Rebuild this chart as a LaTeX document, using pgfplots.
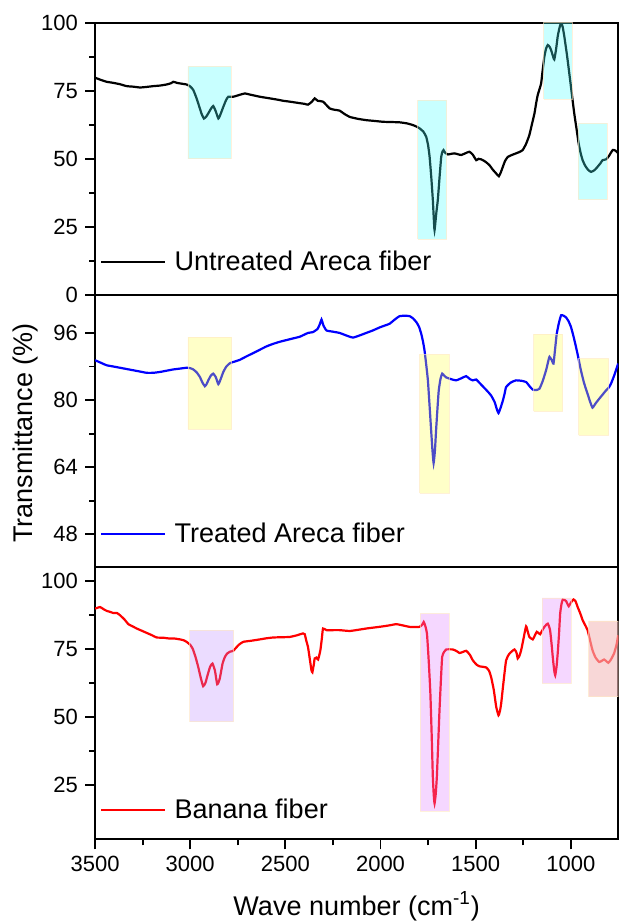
\documentclass[border=0pt]{standalone}
\usepackage{fontspec}
\setmainfont{Liberation Sans}
\usepackage{pgfplots}
\pgfplotsset{compat=1.18}

% highlight colours (drawn translucent over the spectra)
\definecolor{hlcyan}{RGB}{72,255,255}
\definecolor{hlyellow}{RGB}{255,255,72}
\definecolor{hllav}{RGB}{188,138,255}
\definecolor{hlorchid}{RGB}{222,122,255}
\definecolor{hlpink}{RGB}{243,188,188}
\definecolor{hledge}{RGB}{255,232,195}

\pgfplotsset{
  ftir/.style={
    width=261.5pt, height=136pt, scale only axis,
    xmin=750, xmax=3500, x dir=reverse,
    axis line style={line width=0.9pt},
    tick align=outside, tick pos=left,
    major tick length=5pt, minor tick length=3pt,
    every tick/.style={line width=0.9pt, black},
    minor y tick num=1,
    /pgf/number format/assume math mode=true,
    /pgf/number format/1000 sep={},
    ticklabel style={font=\fontsize{11}{13}\selectfont},
    label style={font=\fontsize{13.5}{16}\selectfont},
    legend style={draw=none, fill=none, anchor=west,
      font=\fontsize{13.5}{16}\selectfont,
      inner sep=0pt, nodes={inner xsep=0pt}},
    legend image code/.code={\draw[#1, line width=1pt] (0pt,0pt) -- (31.5pt,0pt); \path (36pt,0pt);},
    clip=true,
  },
  hlbox/.style={draw=hledge, line width=0.4pt, fill=#1, fill opacity=0.3, draw opacity=0.6, forget plot},
}

\begin{document}
\begin{tikzpicture}
\useasboundingbox (-47.5pt,-41.85pt) rectangle (262pt,419.35pt);

% ---------------- Untreated Areca fiber ----------------
\begin{axis}[ftir, at={(0pt,272pt)}, anchor=south west,
  ymin=0, ymax=100, ytick={0,25,50,75,100}, xtick=\empty,
  legend style={at={(axis description cs:0.0096,0.119)}}]
\addplot[black, line width=1.1pt, smooth, tension=0.3] coordinates {
(3500,79.8)(3470,79)(3439,78.3)(3404,77.9)(3369,77.4)(3334,76.7)(3300,76.5)(3264,76.2)
(3230,76.4)(3194,76.7)(3160,76.9)(3124,77.3)(3100,77.8)(3089,78.3)(3070,77.9)(3054,77.7)
(3019,77.3)(3000,76.6)(2984,75.3)(2968,72.5)(2952,69.1)(2940,66.5)(2928,64.8)(2916,65.5)
(2905,66.7)(2890,68.5)(2879,69.4)(2866,67.5)(2852,64.8)(2840,66.5)(2826,69.1)(2812,71.5)
(2800,72.8)(2774,72.8)(2740,73.5)(2713,74.0)(2680,73.5)(2634,72.8)(2590,72.3)(2547,71.8)
(2510,71.3)(2477,71)(2430,70.5)(2400,70.2)(2381,69.9)(2360,71)(2346,72.2)(2330,71.3)
(2302,71)(2267,68.5)(2240,68)(2215,67.7)(2190,66.5)(2162,65.4)(2120,64.7)(2075,64.2)
(2030,63.9)(1987,63.6)(1940,63.5)(1900,63.4)(1860,63.0)(1830,62.4)(1810,61.8)(1795,61.2)
(1775,60)(1760,58.1)(1750,55)(1742,50.7)(1733,43)(1725,34.8)(1720,28)(1716,23.8)
(1707,30)(1699,34.8)(1690,43)(1681,50.7)(1675,52.5)(1669,53.2)(1660,52.2)(1646,51.6)
(1630,51.8)(1611,52)(1595,51.7)(1576,51.4)(1555,52)(1533,52.6)(1515,51.5)(1497,49.5)
(1485,50)(1471,49.8)(1450,49)(1428,47.7)(1410,46)(1392,44.6)(1378,43.6)(1368,45)
(1357,47.1)(1345,49.3)(1331,50.7)(1310,51.4)(1288,52)(1270,52.5)(1253,53.2)(1235,55.5)
(1218,58.7)(1205,62.5)(1191,66.7)(1182,70.5)(1174,73.4)(1165,75.5)(1156,77.7)(1148,82.5)
(1139,87.5)(1130,90.5)(1121,91.8)(1112,91.2)(1104,90)(1095,88)(1087,86.5)(1078,90)
(1069,94.9)(1060,98)(1051,100)(1043,98.5)(1034,94.9)(1020,88)(1008,81.4)(995,74)
(982,66.7)(970,61)(959,55.7)(948,52)(938,49.5)(925,47.5)(910,46)(894,45.2)
(876,45.8)(859,47.1)(845,48.3)(833,49.5)(815,49.8)(800,51)(780,53.2)(765,53)(751,52)
};
\addlegendentry{Untreated Areca fiber}
\addplot[hlbox=hlcyan] coordinates {(3012,50)(2786,50)(2786,84)(3012,84)(3012,50)};
\addplot[hlbox=hlcyan] coordinates {(1804,20.5)(1652,20.5)(1652,71.6)(1804,71.6)(1804,20.5)};
\addplot[hlbox=hlcyan] coordinates {(1143,72)(994,72)(994,100)(1143,100)(1143,72)};
\addplot[hlbox=hlcyan] coordinates {(961,35)(810,35)(810,63)(961,63)(961,35)};
\end{axis}

% ---------------- Treated Areca fiber ----------------
\begin{axis}[ftir, at={(0pt,136pt)}, anchor=south west,
  ymin=40.2, ymax=105.07, ytick={48,64,80,96}, xtick=\empty,
  ylabel={Transmittance (\%)},
  ylabel style={at={(axis description cs:-0.1329,0.493)}, anchor=center},
  legend style={at={(axis description cs:0.0096,0.12)}}]
\addplot[blue, line width=1.1pt, smooth, tension=0.3] coordinates {
(3500,89.5)(3470,88.9)(3439,88.3)(3404,88)(3369,87.7)(3334,87.4)(3299,87.1)(3264,86.8)
(3229,86.5)(3194,86.5)(3159,86.7)(3124,87)(3089,87.3)(3054,87.5)(3019,87.7)(3000,87.6)
(2984,87.3)(2966,86.6)(2949,85.5)(2936,84.2)(2923,83.3)(2914,83.8)(2905,84.7)(2892,85.8)
(2879,86.3)(2866,85.5)(2852,83.8)(2840,85)(2826,86.7)(2810,88)(2791,88.8)(2765,89.2)
(2739,89.6)(2705,90.4)(2669,91.2)(2634,92)(2599,92.8)(2564,93.4)(2529,93.9)(2494,94.3)
(2459,94.7)(2424,95.1)(2381,96)(2355,96.2)(2330,97)(2318,98.2)(2310,99.2)(2300,97.8)
(2284,96.6)(2250,96.3)(2215,96)(2180,95.4)(2145,94.9)(2110,95.4)(2075,96)(2040,96.6)
(2005,97.3)(1975,97.8)(1952,98.2)(1925,99.2)(1900,100)(1870,100.1)(1847,100)(1830,99.5)
(1812,98.6)(1798,97.5)(1786,95.8)(1777,94)(1769,91.9)(1760,88.5)(1751,84.7)(1742,78.5)
(1734,72.8)(1727,68)(1721,65)(1714,68)(1708,72.8)(1700,78.5)(1694,82.3)(1685,85)
(1676,86.3)(1665,85.8)(1655,85.4)(1630,85)(1603,84.7)(1575,85.2)(1550,85.7)(1530,85)
(1515,84.7)(1497,84.9)(1480,84.1)(1463,83.3)(1440,82.2)(1419,81.1)(1400,79.5)(1390,78)
(1380,76.9)(1368,78.3)(1357,79.9)(1348,81.5)(1340,83.1)(1315,84.2)(1288,84.7)(1260,84.6)
(1235,84.3)(1215,83.2)(1200,82.5)(1182,82.4)(1165,82.7)(1148,84.5)(1130,87.1)(1120,89)
(1112,90.3)(1100,89.5)(1091,88.7)(1083,92)(1074,95.8)(1062,98.5)(1051,100.2)(1038,100.1)
(1025,99.7)(1012,98.8)(999,97.4)(986,95.2)(973,92.7)(960,90)(947,87.1)(930,84)
(912,81.5)(900,79.8)(886,78.2)(870,79.2)(851,80.3)(833,81.3)(815,82.3)(800,83)
(789,83.9)(775,85.5)(762,87.2)(751,88.7)
};
\addlegendentry{Treated Areca fiber}
\addplot[hlbox=hlyellow] coordinates {(3012,73)(2783,73)(2783,95)(3012,95)(3012,73)};
\addplot[hlbox=hlyellow] coordinates {(1795,57.8)(1638,57.8)(1638,90.9)(1795,90.9)(1795,57.8)};
\addplot[hlbox=hlyellow] coordinates {(1195,77.3)(1043,77.3)(1043,95.7)(1195,95.7)(1195,77.3)};
\addplot[hlbox=hlyellow] coordinates {(959,71.6)(802,71.6)(802,89.9)(959,89.9)(959,71.6)};
\end{axis}

% ---------------- Banana fiber ----------------
\begin{axis}[ftir, at={(0pt,0pt)}, anchor=south west,
  ymin=5, ymax=105.1, ytick={25,50,75,100},
  xtick={1000,1500,2000,2500,3000,3500}, minor x tick num=1,
  xlabel={Wave number (cm\textsuperscript{-1})},
  xlabel style={at={(axis description cs:0.5,0)}, anchor=center, yshift=-33.5pt},
  legend style={at={(axis description cs:0.0096,0.108)}}]
\addplot[red, line width=1.1pt, smooth, tension=0.3] coordinates {
(3500,89.8)(3474,90.4)(3455,89.6)(3439,89)(3420,88.6)(3404,88.2)(3385,88.2)(3369,87.4)
(3345,85.8)(3325,84.1)(3300,83.2)(3281,82.5)(3255,81.7)(3229,80.9)(3200,80)(3176,79.2)
(3140,79.1)(3107,78.8)(3080,78.8)(3054,78.5)(3035,78.2)(3019,77.6)(3000,76.5)(2987,75.1)
(2972,72)(2958,68.4)(2945,64.5)(2932,61.3)(2920,62.5)(2909,65.3)(2895,68.5)(2883,69.6)
(2870,67)(2858,62)(2845,64)(2830,69.6)(2818,72)(2806,73.3)(2790,74)(2774,74.3)
(2745,76.5)(2721,77.6)(2680,78)(2634,78.5)(2600,78.9)(2564,79.2)(2520,79.3)(2477,79.4)
(2440,80)(2407,80.7)(2398,80.4)(2390,78)(2381,75.7)(2370,70.5)(2363,67.2)(2358,66.4)
(2350,69.5)(2346,71.5)(2337,71.8)(2328,71.1)(2316,74.5)(2308,79)(2302,82.5)(2284,81.9)
(2250,81.9)(2215,81.9)(2162,81.6)(2120,82)(2075,82.5)(2030,82.9)(1987,83.3)(1950,83.7)
(1917,84.1)(1880,83.6)(1847,83.1)(1795,83.1)(1780,84)(1773,84.9)(1765,83.5)(1756,80.7)
(1747,71)(1738,58.6)(1731,43)(1725,27.9)(1720,21)(1716,18.2)(1710,21.5)(1704,27.9)
(1697,40)(1690,52.5)(1683,63)(1676,72.1)(1665,74)(1655,74.8)(1620,74.8)(1600,74.2)
(1585,73.5)(1570,73.8)(1550,74.3)(1530,72.8)(1515,70.8)(1495,69.2)(1480,68.6)(1460,68.4)
(1445,68.2)(1430,67)(1419,64.7)(1405,60)(1392,53.7)(1380,50.6)(1372,52.3)(1366,54.9)
(1355,62)(1340,70.8)(1322,73.3)(1296,74.8)(1285,73.5)(1279,71.5)(1270,72.5)(1261,74.5)
(1248,79)(1235,83.3)(1226,81.3)(1218,79.4)(1200,78.5)(1190,79.8)(1179,81.3)(1170,80.8)
(1161,80.4)(1150,81.8)(1139,83.1)(1121,84.3)(1109,81.9)(1100,76)(1095,72.1)(1088,67.5)
(1082,65.3)(1075,68.5)(1069,73.3)(1062,80.5)(1056,88)(1049,91.5)(1042,93.2)(1033,93)
(1025,92.6)(1011,90.7)(1000,92)(986,93.2)(975,92.5)(964,90.4)(950,88)(938,85.6)
(925,83.8)(912,81.9)(900,78.5)(886,74.5)(870,71.8)(851,70.2)(838,70.6)(825,71.1)
(815,70.6)(803,69.9)(790,71)(773,73.3)(760,76.5)(751,80)
};
\addlegendentry{Banana fiber}
\addplot[hlbox=hllav] coordinates {(3002,48.2)(2772,48.2)(2772,81.9)(3002,81.9)(3002,48.2)};
\addplot[hlbox=hlorchid] coordinates {(1791,15.4)(1639,15.4)(1639,88)(1791,88)(1791,15.4)};
\addplot[hlbox=hlorchid] coordinates {(1151,62.3)(999,62.3)(999,93.75)(1151,93.75)(1151,62.3)};
\addplot[draw=hledge, line width=0.4pt, fill=hlpink, fill opacity=0.6, draw opacity=0.6, forget plot]
  coordinates {(907,57.4)(750,57.4)(750,85.3)(907,85.3)(907,57.4)};
\end{axis}
\end{tikzpicture}
\end{document}
